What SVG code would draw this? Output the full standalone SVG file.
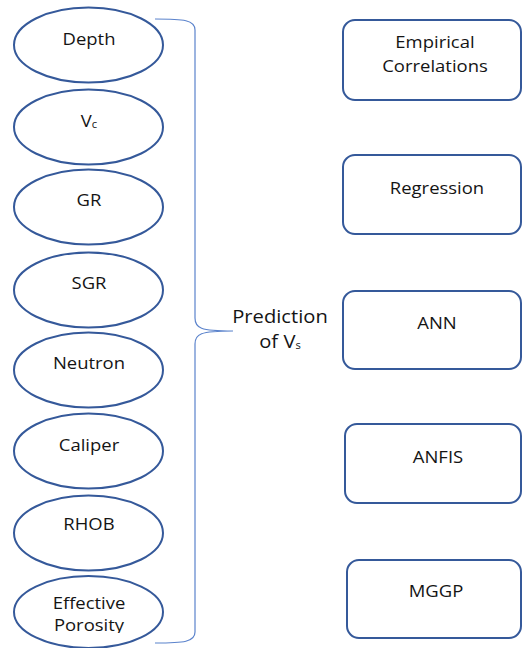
<svg xmlns="http://www.w3.org/2000/svg" width="522" height="648" viewBox="0 0 522 648">
  <style>
    .ell { fill: #ffffff; stroke: #35599a; stroke-width: 2; }
    .box { fill: #ffffff; stroke: #35599a; stroke-width: 2; }
    .brace { fill: none; stroke: #5b83cc; stroke-width: 1.2; }
    .lbl { font-family: "Open Sans", "Noto Sans", sans-serif; font-size: 16.5px; fill: #141414; text-anchor: middle;
           transform-box: fill-box; transform-origin: center; transform: scaleX(1.12); }
    .big { font-size: 18px; }
    .sub { font-size: 10px; }
  </style>
  <defs>
    <clipPath id="porClip">
      <rect x="0" y="0" width="200" height="633"/>
    </clipPath>
  </defs>

  <!-- input parameters -->
  <g id="node-depth">
    <ellipse class="ell" cx="88.5" cy="45" rx="74.5" ry="37.5"/>
    <text class="lbl" x="89" y="45">Depth</text>
  </g>
  <g id="node-vc">
    <ellipse class="ell" cx="88.5" cy="127" rx="74.5" ry="37.5"/>
    <text class="lbl" x="89" y="127">V<tspan class="sub" dy="1">c</tspan></text>
  </g>
  <g id="node-gr">
    <ellipse class="ell" cx="88.5" cy="207" rx="74.5" ry="37.5"/>
    <text class="lbl" x="89" y="206">GR</text>
  </g>
  <g id="node-sgr">
    <ellipse class="ell" cx="88.5" cy="290" rx="74.5" ry="37.5"/>
    <text class="lbl" x="89" y="289">SGR</text>
  </g>
  <g id="node-neutron">
    <ellipse class="ell" cx="88.5" cy="370" rx="74.5" ry="37.5"/>
    <text class="lbl" x="89" y="369">Neutron</text>
  </g>
  <g id="node-caliper">
    <ellipse class="ell" cx="88.5" cy="451" rx="74.5" ry="37.5"/>
    <text class="lbl" x="89" y="451">Caliper</text>
  </g>
  <g id="node-rhob">
    <ellipse class="ell" cx="88.5" cy="533" rx="74.5" ry="37.5"/>
    <text class="lbl" x="89" y="530">RHOB</text>
  </g>
  <g id="node-porosity">
    <ellipse class="ell" cx="88.5" cy="612" rx="74.5" ry="36"/>
    <g clip-path="url(#porClip)">
      <text class="lbl" x="89" y="609">Effective</text>
      <text class="lbl" x="89" y="631">Porosity</text>
    </g>
  </g>

  <!-- brace gathering the inputs -->
  <g id="connectors">
    <path class="brace" d="M155,19 C184,19 195,20 195,30 L195,318 C195,328 200,331 233,331 C200,331 195,334 195,344 L195,632 C195,642 184,643 155,643"/>
  </g>

  <g id="node-prediction">
    <text class="lbl big" x="280" y="323">Prediction</text>
    <text class="lbl big" x="280" y="348">of V<tspan class="sub" dy="1">s</tspan></text>
  </g>

  <!-- prediction methods -->
  <g id="node-empirical">
    <rect class="box" x="343" y="20" width="178" height="80" rx="12"/>
    <text class="lbl" x="435" y="48">Empirical</text>
    <text class="lbl" x="435" y="72">Correlations</text>
  </g>
  <g id="node-regression">
    <rect class="box" x="343" y="155" width="178" height="79" rx="12"/>
    <text class="lbl" x="437" y="194">Regression</text>
  </g>
  <g id="node-ann">
    <rect class="box" x="343" y="291" width="178" height="78" rx="12"/>
    <text class="lbl" x="437" y="329">ANN</text>
  </g>
  <g id="node-anfis">
    <rect class="box" x="345" y="424" width="176" height="79" rx="12"/>
    <text class="lbl" x="438" y="463">ANFIS</text>
  </g>
  <g id="node-mggp">
    <rect class="box" x="347" y="560" width="174" height="78" rx="12"/>
    <text class="lbl" x="436" y="597">MGGP</text>
  </g>
</svg>
